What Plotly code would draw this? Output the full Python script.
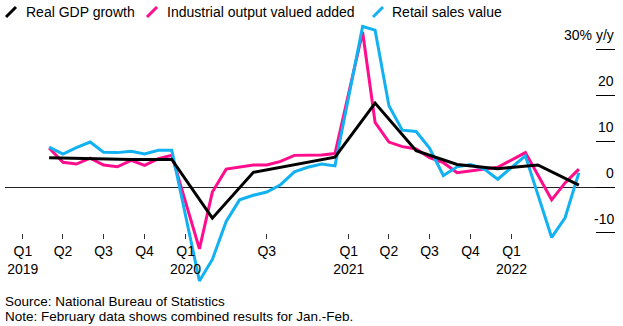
import plotly.graph_objects as go

# ---- data ----
month_dates = (
    ["2019-%02d-01" % m for m in range(3, 13)]
    + ["2020-%02d-01" % m for m in range(2, 13)]
    + ["2021-%02d-01" % m for m in range(2, 13)]
)
month_dates_2022 = ["2022-02-01", "2022-04-01", "2022-05-01", "2022-06-01"]
dates = month_dates + month_dates_2022

industrial_output = [
    8.5, 5.4, 5.0, 6.3, 4.8, 4.4, 5.8, 4.7, 6.2, 6.9,
    -13.5, -1.1, 3.9, 4.4, 4.8, 4.8, 5.6, 6.9, 6.9, 7.0, 7.3,
    33.8, 14.1, 9.8, 8.8, 8.3, 6.4, 5.3, 3.1, 3.5, 3.8, 4.3,
    7.5, -2.8, 0.9, 3.9,
]
retail_sales = [
    8.7, 7.2, 8.6, 9.8, 7.6, 7.5, 7.8, 7.2, 8.0, 8.0,
    -20.5, -15.8, -7.5, -2.8, -1.8, -1.1, 0.5, 3.3, 4.3, 5.0, 4.6,
    35.0, 34.2, 17.7, 12.4, 12.1, 8.5, 2.5, 4.4, 4.9, 3.9, 1.7,
    6.8, -11.0, -6.7, 3.1,
]
gdp_dates = [
    "2019-03-01", "2019-06-01", "2019-09-01", "2019-12-01",
    "2020-03-01", "2020-06-01", "2020-09-01", "2020-12-01",
    "2021-03-01", "2021-06-01", "2021-09-01", "2021-12-01",
    "2022-03-01", "2022-06-01",
]
gdp_growth = [6.4, 6.2, 6.0, 6.0, -6.8, 3.2, 4.9, 6.5, 18.3, 7.9, 4.9, 4.0, 4.8, 0.4]

x_tick_vals = [
    "2019-01-01", "2019-04-01", "2019-07-01", "2019-10-01",
    "2020-01-01", "2020-07-01",
    "2021-01-01", "2021-04-01", "2021-07-01", "2021-10-01",
    "2022-01-01",
]
x_tick_text = [
    "Q1<br>2019", "Q2", "Q3", "Q4",
    "Q1<br>2020", "Q3",
    "Q1<br>2021", "Q2", "Q3", "Q4",
    "Q1<br>2022",
]
y_tick_vals = [-10, 0, 10, 20, 30]
y_tick_text = ["-10", "0", "10", "20", "30% y/y"]

series_names = ["Real GDP growth", "Industrial output valued added", "Retail sales value"]

# ---- style ----
PINK = "#ff0d8c"
BLUE = "#12b1f2"
BLACK = "#000000"
FONT = "Liberation Sans, Arial, sans-serif"

W, H = 623, 326
ML, MR, MT, MB = 5, 8, 20, 36
PW, PH = W - ML - MR, H - MT - MB


def px(x):
    return (x - ML) / PW


def py(y):
    return (H - MB - y) / PH


fig = go.Figure()
fig.add_trace(go.Scatter(x=dates, y=industrial_output, mode="lines",
                         line=dict(color=PINK, width=3), name=series_names[1]))
fig.add_trace(go.Scatter(x=dates, y=retail_sales, mode="lines",
                         line=dict(color=BLUE, width=3), name=series_names[2]))
fig.add_trace(go.Scatter(x=gdp_dates, y=gdp_growth, mode="lines",
                         line=dict(color=BLACK, width=3), name=series_names[0]))

fig.update_layout(
    width=W, height=H,
    margin=dict(l=ML, r=MR, t=MT, b=MB),
    paper_bgcolor="white", plot_bgcolor="white",
    showlegend=False,
    font=dict(family=FONT, size=14, color="#000"),
    xaxis=dict(
        type="date",
        range=["2018-11-22", "2022-08-21"],
        tickvals=x_tick_vals, ticktext=x_tick_text,
        ticks="outside", ticklen=5, tickcolor="#333", tickwidth=1,
        showgrid=False, showline=False, zeroline=False,
        anchor="free", position=py(233),
        tickfont=dict(family=FONT, size=14, color="#000"),
    ),
    yaxis=dict(
        side="right",
        range=[-22.46, 36.42],
        tickvals=y_tick_vals,
        ticks="inside", ticklen=19, tickcolor="#000", tickwidth=1,
        showticklabels=False,
        showgrid=False, showline=False,
        zeroline=True, zerolinecolor="#222", zerolinewidth=1,
    ),
)

# y-axis labels sitting above their tick segments
for v, t in zip(y_tick_vals, y_tick_text):
    fig.add_annotation(text=t, xref="paper", yref="y", x=px(615), y=v,
                       xanchor="right", yanchor="middle", yshift=14,
                       showarrow=False, borderpad=0,
                       font=dict(family=FONT, size=14, color="#000"))

# manual legend (diagonal strokes + labels)
legend_items = [
    (BLACK, 6, 24, series_names[0]),
    (PINK, 147, 165, series_names[1]),
    (BLUE, 373, 390, series_names[2]),
]
for color, sx, tx, label in legend_items:
    fig.add_shape(type="line", xref="paper", yref="paper",
                  x0=px(sx), y0=py(17), x1=px(sx + 10), y1=py(7),
                  line=dict(color=color, width=3))
    fig.add_annotation(text=label, xref="paper", yref="paper",
                       x=px(tx), y=py(12), xanchor="left", yanchor="middle",
                       showarrow=False, font=dict(family=FONT, size=14, color="#000"))

fig.add_annotation(text="Source: National Bureau of Statistics", xref="paper", yref="paper",
                   x=px(3), y=py(301), xanchor="left", yanchor="middle",
                   showarrow=False, font=dict(family=FONT, size=13.5, color="#000"))
fig.add_annotation(text="Note: February data shows combined results for Jan.-Feb.",
                   xref="paper", yref="paper",
                   x=px(3), y=py(316), xanchor="left", yanchor="middle",
                   showarrow=False, font=dict(family=FONT, size=13.5, color="#000"))

fig.write_html("out.html")
